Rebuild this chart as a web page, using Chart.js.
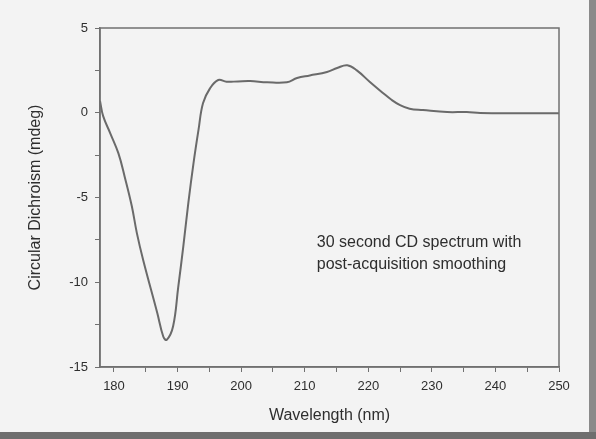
<!DOCTYPE html>
<html>
<head>
<meta charset="utf-8">
<script src="https://cdn.jsdelivr.net/npm/chart.js@4/dist/chart.umd.min.js"></script>
<style>
  html, body { margin: 0; padding: 0; background: #f3f3f3; }
  #wrap { position: relative; width: 596px; height: 439px; overflow: hidden; }
  #edgeR { position: absolute; right: 0; top: 0; width: 7px; height: 439px; background: #8a8a8a; }
  #edgeB { position: absolute; left: 0; bottom: 0; width: 596px; height: 7px; background: #6e6e6e; }
</style>
</head>
<body>
<div id="wrap">
  <canvas id="cdChart" width="596" height="439"></canvas>
  <div id="edgeR"></div>
  <div id="edgeB"></div>
</div>
<script>
// CD spectrum
const wavelength = [177.8, 178.3, 179.4, 180.7, 181.7, 182.8, 183.6, 184.6, 186.8, 187.75, 188.3, 189.3, 190.1, 190.9, 191.7, 192.5, 193.3, 194.0, 195.1, 196.4, 197.7, 199.5, 201.4, 204.1, 207.2, 208.8, 210.8, 213.5, 215.1, 216.7, 218.2, 220.3, 222.3, 223.6, 225.0, 226.5, 228.6, 232.4, 235.5, 237.6, 242.8, 250.0];
const cd = [0.7, -0.2, -1.2, -2.4, -3.8, -5.5, -7.1, -8.7, -11.8, -13.2, -13.4, -12.6, -10.3, -7.9, -5.3, -3.0, -1.0, 0.56, 1.44, 1.93, 1.83, 1.85, 1.87, 1.8, 1.8, 2.05, 2.2, 2.4, 2.64, 2.8, 2.5, 1.8, 1.17, 0.78, 0.45, 0.24, 0.16, 0.04, 0.04, -0.01, -0.03, -0.03];
const xTicks = [180, 190, 200, 210, 220, 230, 240, 250];
const yTicks = [-15, -10, -5, 0, 5];
const note = ['30 second CD spectrum with', 'post-acquisition smoothing'];

const ink = '#2e2e2e';
const font = "'Liberation Sans', Arial, sans-serif";

// frame around plot area + annotation text
const framePlugin = {
  id: 'frame',
  afterDraw(chart) {
    const { ctx, chartArea: a, scales } = chart;
    ctx.save();
    ctx.strokeStyle = '#707070';
    ctx.lineWidth = 1.5;
    ctx.strokeRect(a.left, a.top, a.right - a.left, a.bottom - a.top);
    ctx.fillStyle = ink;
    ctx.font = '16px ' + font;
    ctx.textBaseline = 'middle';
    ctx.fillText(note[0], scales.x.getPixelForValue(211.9), scales.y.getPixelForValue(-7.68));
    ctx.fillText(note[1], scales.x.getPixelForValue(211.9), scales.y.getPixelForValue(-8.98));
    ctx.restore();
  }
};

new Chart(document.getElementById('cdChart'), {
  type: 'scatter',
  data: {
    datasets: [{
      data: wavelength.map((w, i) => ({ x: w, y: cd[i] })),
      showLine: true,
      borderColor: '#6a6a6a',
      borderWidth: 2,
      pointRadius: 0,
      tension: 0.4
    }]
  },
  options: {
    responsive: false,
    animation: false,
    layout: { padding: { top: 28, right: 37, left: 0, bottom: 0 } },
    plugins: { legend: { display: false }, tooltip: { enabled: false } },
    scales: {
      x: {
        type: 'linear', min: 177.8, max: 250,
        afterBuildTicks: s => { s.ticks = [];
          for (let v = 180; v <= 250; v += 5) s.ticks.push({ value: v }); },
        afterFit: s => { s.height = 72; },
        border: { color: '#707070', width: 1.5 },
        grid: { drawOnChartArea: false, tickLength: 5, color: '#707070' },
        ticks: { color: ink, font: { family: font, size: 13 }, padding: 7, maxRotation: 0,
          callback: v => xTicks.includes(v) ? v : '' },
        title: { display: true, text: 'Wavelength (nm)', color: ink,
          font: { family: font, size: 16 }, padding: { top: 0, bottom: 14 } }
      },
      y: {
        min: -15, max: 5,
        afterBuildTicks: s => { s.ticks = [];
          for (let v = -15; v <= 5; v += 2.5) s.ticks.push({ value: v }); },
        afterFit: s => { s.width = 100; },
        border: { color: '#707070', width: 1.5 },
        grid: { drawOnChartArea: false, tickLength: 5, color: '#707070' },
        ticks: { color: ink, font: { family: font, size: 13 }, padding: 7,
          callback: v => yTicks.includes(v) ? v : '' },
        title: { display: true, text: 'Circular Dichroism (mdeg)', color: ink,
          font: { family: font, size: 16 }, padding: { top: 26, bottom: 0 } }
      }
    }
  },
  plugins: [framePlugin]
});
</script>
</body>
</html>
